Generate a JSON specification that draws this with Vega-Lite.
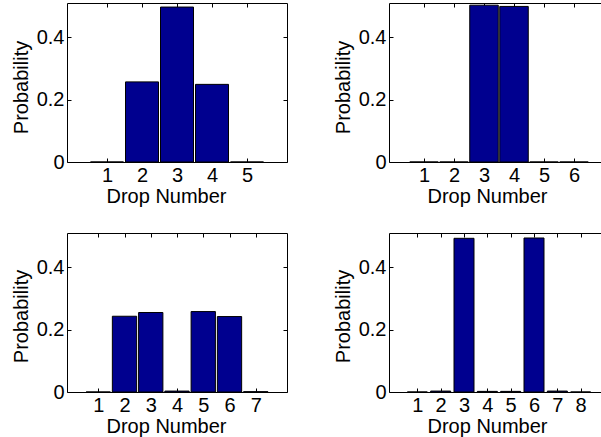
{
  "$schema": "https://vega.github.io/schema/vega-lite/v6.json",
  "padding": {"left": 10, "top": 2, "right": 0, "bottom": 0},
  "background": "white",
  "datasets": {
    "p1": [
      {"drop": 1, "p": 0.0},
      {"drop": 2, "p": 0.257},
      {"drop": 3, "p": 0.497},
      {"drop": 4, "p": 0.249},
      {"drop": 5, "p": 0.0}
    ],
    "p2": [
      {"drop": 1, "p": 0.0},
      {"drop": 2, "p": 0.0},
      {"drop": 3, "p": 0.503},
      {"drop": 4, "p": 0.499},
      {"drop": 5, "p": 0.0},
      {"drop": 6, "p": 0.0}
    ],
    "p3": [
      {"drop": 1, "p": 0.0},
      {"drop": 2, "p": 0.243},
      {"drop": 3, "p": 0.255},
      {"drop": 4, "p": 0.003},
      {"drop": 5, "p": 0.258},
      {"drop": 6, "p": 0.242},
      {"drop": 7, "p": 0.001}
    ],
    "p4": [
      {"drop": 1, "p": 0.0},
      {"drop": 2, "p": 0.003},
      {"drop": 3, "p": 0.493},
      {"drop": 4, "p": 0.002},
      {"drop": 5, "p": 0.002},
      {"drop": 6, "p": 0.494},
      {"drop": 7, "p": 0.003},
      {"drop": 8, "p": 0.0}
    ]
  },
  "config": {
    "font": "Liberation Sans",
    "view": {"stroke": "black", "strokeWidth": 1},
    "axis": {
      "domain": false,
      "grid": false,
      "tickColor": "black",
      "tickSize": -4,
      "tickWidth": 1,
      "labelFont": "Liberation Sans",
      "labelFontSize": 20,
      "labelColor": "black",
      "titleFont": "Liberation Sans",
      "titleFontSize": 20,
      "titleFontWeight": "normal",
      "titleColor": "black"
    },
    "axisX": {"labelPadding": 7.5, "labelAngle": 0, "titlePadding": 1},
    "axisY": {"labelPadding": 7, "titlePadding": 5}
  },
  "columns": 2,
  "spacing": {"row": 71, "column": 102},
  "bounds": "flush",
  "concat": [
    {
      "width": 220, "height": 159,
      "data": {"name": "p1"},
      "layer": [
        {
          "mark": {"type": "bar", "fill": "#00008F", "stroke": "black", "strokeWidth": 1, "width": 33},
          "encoding": {
            "x": {"field": "drop", "type": "quantitative", "scale": {"domain": [0, 6], "nice": false}, "axis": {"orient": "bottom", "values": [1, 2, 3, 4, 5], "title": "Drop Number", "titleX": 99}},
            "y": {"field": "p", "type": "quantitative", "scale": {"domain": [0, 0.51], "nice": false}, "axis": {"orient": "left", "values": [0, 0.2, 0.4], "format": ".1~f", "title": "Probability", "titleY": 84}}
          }
        },
        {
          "mark": {"type": "bar", "opacity": 0, "width": 1},
          "encoding": {
            "x": {"field": "drop", "type": "quantitative", "axis": {"orient": "top", "values": [1, 2, 3, 4, 5], "labels": false, "title": null}},
            "y": {"field": "p", "type": "quantitative", "axis": {"orient": "right", "values": [0, 0.2, 0.4], "labels": false, "title": null}}
          }
        }
      ],
      "resolve": {"axis": {"x": "independent", "y": "independent"}}
    },
    {
      "width": 220, "height": 159,
      "data": {"name": "p2"},
      "layer": [
        {
          "mark": {"type": "bar", "fill": "#00008F", "stroke": "black", "strokeWidth": 1, "width": 28.5},
          "encoding": {
            "x": {"field": "drop", "type": "quantitative", "scale": {"domain": [0, 7], "nice": false}, "axis": {"orient": "bottom", "values": [1, 2, 3, 4, 5, 6], "title": "Drop Number", "titleX": 98}},
            "y": {"field": "p", "type": "quantitative", "scale": {"domain": [0, 0.51], "nice": false}, "axis": {"orient": "left", "values": [0, 0.2, 0.4], "format": ".1~f", "title": "Probability", "titleY": 84}}
          }
        },
        {
          "mark": {"type": "bar", "opacity": 0, "width": 1},
          "encoding": {
            "x": {"field": "drop", "type": "quantitative", "axis": {"orient": "top", "values": [1, 2, 3, 4, 5, 6], "labels": false, "title": null}},
            "y": {"field": "p", "type": "quantitative", "axis": {"orient": "right", "values": [0, 0.2, 0.4], "labels": false, "title": null}}
          }
        }
      ],
      "resolve": {"axis": {"x": "independent", "y": "independent"}}
    },
    {
      "width": 220, "height": 159,
      "data": {"name": "p3"},
      "layer": [
        {
          "mark": {"type": "bar", "fill": "#00008F", "stroke": "black", "strokeWidth": 1, "width": 24.3},
          "encoding": {
            "x": {"field": "drop", "type": "quantitative", "scale": {"domain": [0, 8], "nice": false}, "axis": {"orient": "bottom", "values": [1, 2, 3, 4, 5, 6, 7], "title": "Drop Number", "titleX": 99}},
            "y": {"field": "p", "type": "quantitative", "scale": {"domain": [0, 0.51], "nice": false}, "axis": {"orient": "left", "values": [0, 0.2, 0.4], "format": ".1~f", "title": "Probability", "titleY": 83}}
          }
        },
        {
          "mark": {"type": "bar", "opacity": 0, "width": 1},
          "encoding": {
            "x": {"field": "drop", "type": "quantitative", "axis": {"orient": "top", "values": [1, 2, 3, 4, 5, 6, 7], "labels": false, "title": null}},
            "y": {"field": "p", "type": "quantitative", "axis": {"orient": "right", "values": [0, 0.2, 0.4], "labels": false, "title": null}}
          }
        }
      ],
      "resolve": {"axis": {"x": "independent", "y": "independent"}}
    },
    {
      "width": 220, "height": 159,
      "data": {"name": "p4"},
      "layer": [
        {
          "mark": {"type": "bar", "fill": "#00008F", "stroke": "black", "strokeWidth": 1, "width": 20},
          "encoding": {
            "x": {"field": "drop", "type": "quantitative", "scale": {"domain": [0, 9], "nice": false}, "axis": {"orient": "bottom", "values": [1, 2, 3, 4, 5, 6, 7, 8], "title": "Drop Number", "titleX": 98}},
            "y": {"field": "p", "type": "quantitative", "scale": {"domain": [0, 0.51], "nice": false}, "axis": {"orient": "left", "values": [0, 0.2, 0.4], "format": ".1~f", "title": "Probability", "titleY": 83}}
          }
        },
        {
          "mark": {"type": "bar", "opacity": 0, "width": 1},
          "encoding": {
            "x": {"field": "drop", "type": "quantitative", "axis": {"orient": "top", "values": [1, 2, 3, 4, 5, 6, 7, 8], "labels": false, "title": null}},
            "y": {"field": "p", "type": "quantitative", "axis": {"orient": "right", "values": [0, 0.2, 0.4], "labels": false, "title": null}}
          }
        }
      ],
      "resolve": {"axis": {"x": "independent", "y": "independent"}}
    }
  ]
}
